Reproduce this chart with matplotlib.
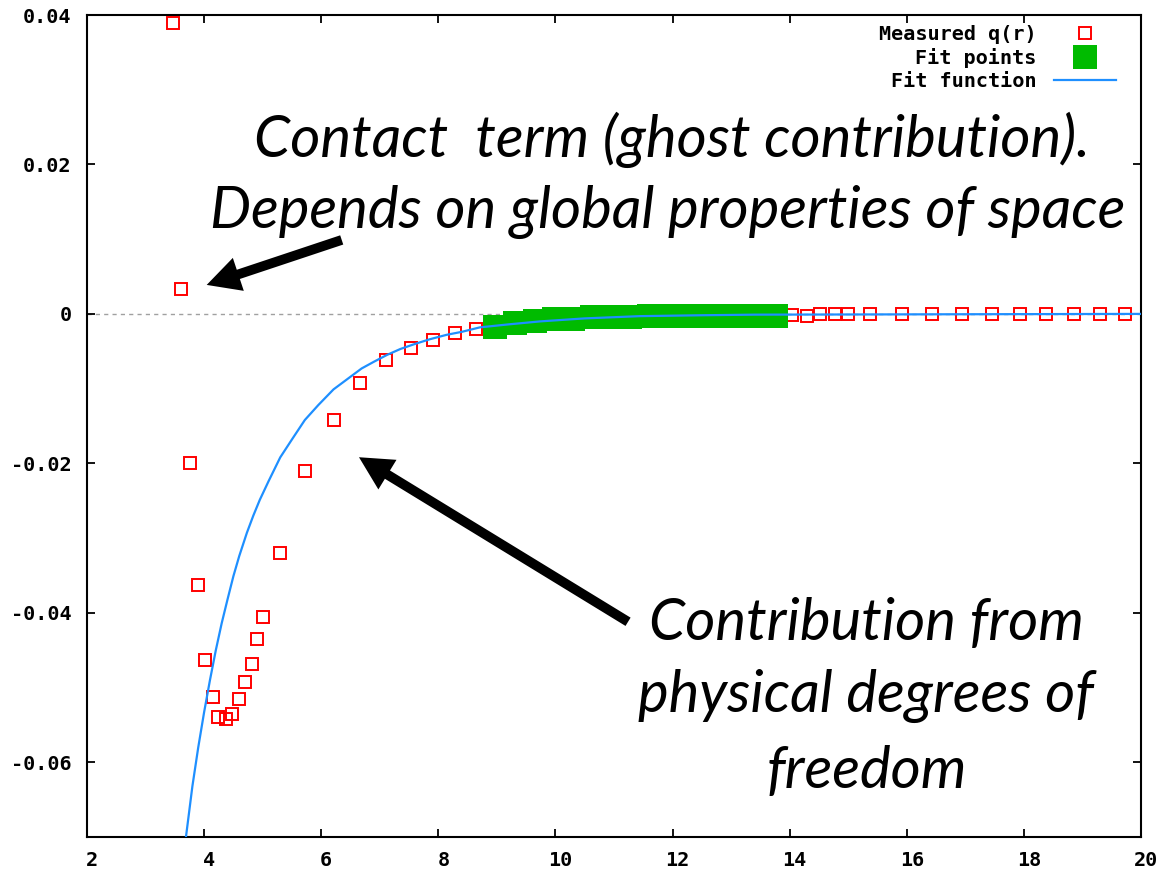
import matplotlib
matplotlib.use("Agg")
import matplotlib.pyplot as plt
from matplotlib.transforms import ScaledTranslation

# Measured correlator q(r) outside the fit window
r_measured = [3.47, 3.60, 3.76, 3.89, 4.02, 4.15, 4.23, 4.37, 4.47, 4.59,
              4.69, 4.81, 4.91, 5.00, 5.30, 5.73, 6.21, 6.67, 7.11, 7.53,
              7.91, 8.29, 8.64, 14.04, 14.30, 14.52, 14.77, 14.99, 15.38,
              15.92, 16.43, 16.94, 17.45, 17.94, 18.38, 18.86, 19.30, 19.73]
q_measured = [0.0389, 0.0033, -0.0200, -0.0363, -0.0463, -0.0513, -0.0540,
              -0.0542, -0.0535, -0.0515, -0.0493, -0.0468, -0.0435, -0.0405,
              -0.0320, -0.0210, -0.0142, -0.0092, -0.0062, -0.0045, -0.0035,
              -0.0025, -0.0020, -0.0002, -0.0003, 0.0, 0.0, 0.0, 0.0, 0.0,
              0.0, 0.0, 0.0, 0.0, 0.0, 0.0, 0.0, 0.0]

# Points used in the fit
r_fit = [8.97, 9.31, 9.65, 9.97, 10.30, 10.62, 10.95, 11.28, 11.60, 11.93,
         12.25, 12.58, 12.90, 13.20, 13.50, 13.77]
q_fit = [-0.00175, -0.00125, -0.00098, -0.00067, -0.00067, -0.00047,
         -0.00047, -0.00047, -0.00027, -0.00027, -0.00027, -0.00027,
         -0.00027, -0.00027, -0.00027, -0.00027]

# Fitted function, tabulated
r_curve = [3.69, 3.80, 3.90, 4.00, 4.10, 4.20, 4.30, 4.40, 4.50, 4.60, 4.73,
           4.84, 4.95, 5.10, 5.30, 5.50, 5.72, 5.95, 6.21, 6.45, 6.69, 6.90,
           7.12, 7.35, 7.57, 7.85, 8.14, 8.40, 8.71, 9.20, 9.74, 10.50,
           11.44, 12.50, 13.40, 20.00]
q_curve = [-0.0700, -0.0632, -0.0580, -0.0533, -0.0490, -0.0450, -0.0414,
           -0.0382, -0.0351, -0.0324, -0.0293, -0.0270, -0.0249, -0.0224,
           -0.0192, -0.0168, -0.0142, -0.0122, -0.0101, -0.0087, -0.0073,
           -0.0064, -0.0055, -0.0047, -0.0041, -0.0034, -0.0028, -0.0024,
           -0.0018, -0.0014, -0.0010, -0.0006, -0.0003, -0.00018, -0.0001,
           0.0]

x_ticks = [2, 4, 6, 8, 10, 12, 14, 16, 18, 20]
y_ticks = [-0.06, -0.04, -0.02, 0.0, 0.02, 0.04]
y_tick_labels = ["-0.06", "-0.04", "-0.02", "0", "0.02", "0.04"]

DPI = 100
W, H = 1159, 876
fig = plt.figure(figsize=(W / DPI, H / DPI), dpi=DPI)
ax = fig.add_axes([87 / W, 39 / H, (1141 - 87) / W, (861 - 39) / H])

tick_font = dict(family="DejaVu Sans Mono", weight="bold", size=14.5)

ax.axhline(0, color="#a0a0a0", lw=1.0, ls=(0, (3, 3)), zorder=1)

ax.plot(r_measured, q_measured, ls="none", marker="s", ms=8.4, mfc="none",
        mec="#ff0000", mew=1.4, label="Measured q(r)", zorder=3)
ax.plot(r_fit, q_fit, ls="none", marker="s", ms=17.3, mfc="#00bb00",
        mec="#00bb00", mew=0, label="Fit points", zorder=4)
ax.plot(r_curve, q_curve, color="#1e8fff", lw=1.6, label="Fit function",
        zorder=5)

ax.set_xlim(2, 20)
ax.set_ylim(-0.07, 0.04)
ax.set_xticks(x_ticks)
ax.set_xticklabels([str(v) for v in x_ticks], fontdict=tick_font)
ax.set_yticks(y_ticks)
ax.set_yticklabels(y_tick_labels, fontdict=tick_font)
ax.tick_params(direction="in", length=6, width=1.3, top=True, right=True,
               colors="black")
ax.tick_params(axis="y", pad=11)
ax.tick_params(axis="x", pad=10)
shift = ScaledTranslation(5 / DPI, 0, fig.dpi_scale_trans)
for lbl in ax.get_xticklabels():
    lbl.set_transform(lbl.get_transform() + shift)
for s in ax.spines.values():
    s.set_linewidth(1.5)

ax.legend(loc="upper right",
          bbox_to_anchor=((1116 - 87) / 1054, 1 - (25 - 15) / 822),
          markerfirst=False, frameon=False, prop=tick_font,
          handlelength=3.1, handletextpad=0.85, borderpad=0.0,
          borderaxespad=0.0, labelspacing=0.2)


def fig_px(x, y):
    """Pixel position (from the top-left corner) to figure fraction."""
    return x / W, (H - y) / H


note_font = dict(family="Lato", style="italic", size=41.8)
for txt, xc, yb in [("Contact  term (ghost contribution).", 672, 157),
                    ("Depends on global properties of space", 668, 228),
                    ("Contribution from", 866, 640),
                    ("physical degrees of", 866, 712),
                    ("freedom", 867, 788)]:
    fx, fy = fig_px(xc, yb)
    fig.text(fx, fy, txt, ha="center", va="baseline", **note_font)

arrow = dict(arrowstyle="simple,head_length=2.4,head_width=2.5,tail_width=0.7",
             mutation_scale=10, fc="black", ec="black", lw=0,
             shrinkA=0, shrinkB=0)
ax.annotate("", xy=(4.044, 0.00388), xytext=(6.35, 0.0099),
            arrowprops=arrow, zorder=6)
ax.annotate("", xy=(6.645, -0.01918), xytext=(11.24, -0.0412),
            arrowprops=arrow, zorder=6)

fig.savefig("out.png", dpi=DPI)
